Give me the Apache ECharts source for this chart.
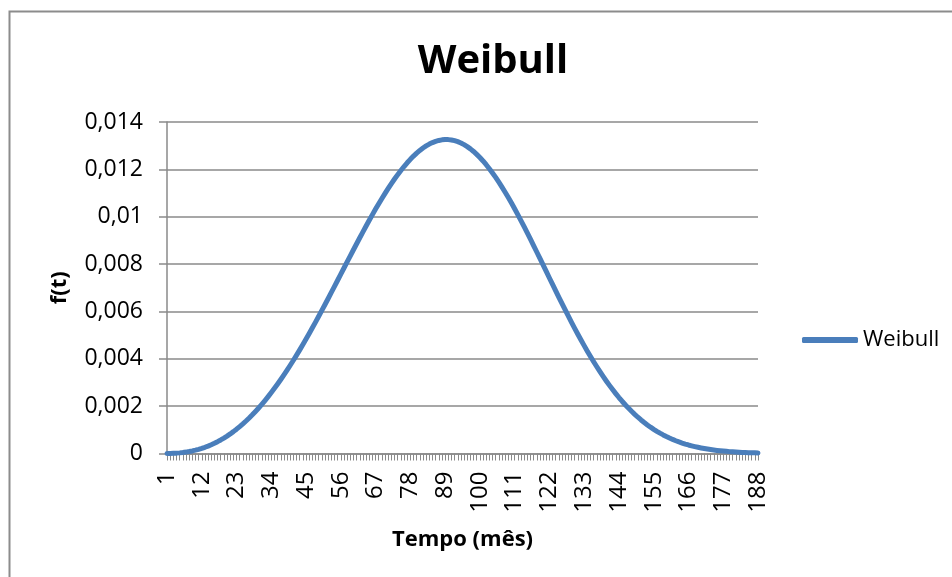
<!DOCTYPE html>
<html>
<head>
<meta charset="utf-8">
<script src="https://cdn.jsdelivr.net/npm/echarts@6/dist/echarts.min.js"></script>
<style>
  html, body { margin: 0; padding: 0; background: #ffffff; }
  #chart { width: 952px; height: 577px; }
</style>
</head>
<body>
<div id="chart"></div>
<script>
// Months on the category axis (1 .. 188)
const months = Array.from({ length: 188 }, (_, i) => String(i + 1));

// f(t) of the Weibull density, one value per month
const weibull = [
  0.0000006, 0.0000029, 0.0000078, 0.0000155, 0.0000265, 0.0000411, 0.0000595, 0.0000820, 0.0001087, 0.0001400,
  0.0001760, 0.0002168, 0.0002626, 0.0003137, 0.0003700, 0.0004319, 0.0004992, 0.0005723, 0.0006512, 0.0007360,
  0.0008268, 0.0009237, 0.0010267, 0.0011358, 0.0012512, 0.0013729, 0.0015009, 0.0016352, 0.0017758, 0.0019226,
  0.0020759, 0.0022353, 0.0024009, 0.0025727, 0.0027505, 0.0029343, 0.0031239, 0.0033192, 0.0035203, 0.0037267,
  0.0039384, 0.0041551, 0.0043766, 0.0046029, 0.0048336, 0.0050683, 0.0053070, 0.0055491, 0.0057946, 0.0060433,
  0.0062943, 0.0065476, 0.0068027, 0.0070593, 0.0073168, 0.0075751, 0.0078334, 0.0080916, 0.0083489, 0.0086050,
  0.0088595, 0.0091118, 0.0093612, 0.0096074, 0.0098499, 0.0100881, 0.0103216, 0.0105496, 0.0107718, 0.0109877,
  0.0111966, 0.0113981, 0.0115917, 0.0117771, 0.0119532, 0.0121201, 0.0122773, 0.0124241, 0.0125602, 0.0126852,
  0.0127987, 0.0129004, 0.0129900, 0.0130671, 0.0131315, 0.0131830, 0.0132214, 0.0132464, 0.0132581, 0.0132561,
  0.0132406, 0.0132116, 0.0131690, 0.0131128, 0.0130433, 0.0129604, 0.0128645, 0.0127557, 0.0126332, 0.0124995,
  0.0123539, 0.0121965, 0.0120278, 0.0118486, 0.0116599, 0.0114603, 0.0112515, 0.0110340, 0.0108083, 0.0105750,
  0.0103347, 0.0100880, 0.0098355, 0.0095780, 0.0093159, 0.0090503, 0.0087814, 0.0085101, 0.0082370, 0.0079626,
  0.0076878, 0.0074131, 0.0071390, 0.0068663, 0.0065954, 0.0063269, 0.0060613, 0.0057993, 0.0055411, 0.0052872,
  0.0050381, 0.0047942, 0.0045556, 0.0043230, 0.0040965, 0.0038764, 0.0036629, 0.0034561, 0.0032563, 0.0030636,
  0.0028780, 0.0026997, 0.0025286, 0.0023648, 0.0022083, 0.0020589, 0.0019166, 0.0017814, 0.0016532, 0.0015318,
  0.0014169, 0.0013087, 0.0012067, 0.0011108, 0.0010209, 0.0009367, 0.0008580, 0.0007846, 0.0007163, 0.0006528,
  0.0005939, 0.0005394, 0.0004890, 0.0004426, 0.0003998, 0.0003605, 0.0003245, 0.0002916, 0.0002615, 0.0002341,
  0.0002092, 0.0001866, 0.0001661, 0.0001476, 0.0001309, 0.0001159, 0.0001024, 0.0000902, 0.0000794, 0.0000697,
  0.0000611, 0.0000535, 0.0000467, 0.0000407, 0.0000353, 0.0000307, 0.0000265, 0.0000229
];

// Value-axis tick labels (decimal comma)
const yTickLabels = ['0', '0,002', '0,004', '0,006', '0,008', '0,01', '0,012', '0,014'];
const yStep = 0.002;

const FONT = '"Open Sans", "Noto Sans", sans-serif';
const GRID_GRAY = '#8a8a8a';
const LINE_BLUE = '#4a7ebb';

const chart = echarts.init(document.getElementById('chart'), null, { renderer: 'canvas' });

chart.setOption({
  backgroundColor: '#ffffff',
  animation: false,
  graphic: [{
    type: 'rect',
    left: 7, top: 9,
    shape: { width: 1000, height: 1000 },
    style: { fill: 'none', stroke: '#8c8c8c', lineWidth: 2 },
    silent: true
  }],
  title: {
    text: 'Weibull',
    left: 488,
    top: 37,
    textAlign: 'center',
    textStyle: { fontFamily: FONT, fontSize: 40, fontWeight: 'bold', color: '#000000' }
  },
  legend: {
    left: 797,
    top: 324,
    icon: 'roundRect',
    itemWidth: 56,
    itemHeight: 6,
    textStyle: { fontFamily: FONT, fontSize: 22, color: '#000000' },
    data: ['Weibull']
  },
  grid: { left: 167, right: 194, top: 122, bottom: 123.5, containLabel: false },
  xAxis: {
    type: 'category',
    data: months,
    boundaryGap: false,
    name: 'Tempo (mês)',
    nameLocation: 'middle',
    nameGap: 75,
    nameTextStyle: { fontFamily: FONT, fontSize: 22, fontWeight: 'bold', color: '#000000' },
    axisLine: { show: true, lineStyle: { color: GRID_GRAY, width: 1.5 } },
    axisTick: { show: true, interval: 0, length: 7, lineStyle: { color: GRID_GRAY, width: 1 } },
    axisLabel: {
      interval: 10,
      rotate: 90,
      margin: 18,
      fontFamily: FONT,
      fontSize: 24,
      color: '#000000'
    },
    splitLine: { show: false }
  },
  yAxis: {
    type: 'value',
    min: 0,
    max: 0.014,
    interval: yStep,
    name: 'f(t)',
    nameLocation: 'middle',
    nameGap: 96,
    nameTextStyle: { fontFamily: FONT, fontSize: 22, fontWeight: 'bold', color: '#000000' },
    axisLine: { show: true, lineStyle: { color: GRID_GRAY, width: 1.5 } },
    axisTick: { show: true, length: 8, lineStyle: { color: GRID_GRAY, width: 1.5 } },
    axisLabel: {
      margin: 24,
      fontFamily: FONT,
      fontSize: 23,
      color: '#000000',
      formatter: v => yTickLabels[Math.round(v / yStep)]
    },
    splitLine: { show: true, lineStyle: { color: GRID_GRAY, width: 1.5 } }
  },
  series: [{
    name: 'Weibull',
    type: 'line',
    data: weibull,
    symbol: 'none',
    smooth: false,
    itemStyle: { color: LINE_BLUE },
    lineStyle: { color: LINE_BLUE, width: 5, cap: 'round', join: 'round' }
  }]
});
</script>
</body>
</html>
